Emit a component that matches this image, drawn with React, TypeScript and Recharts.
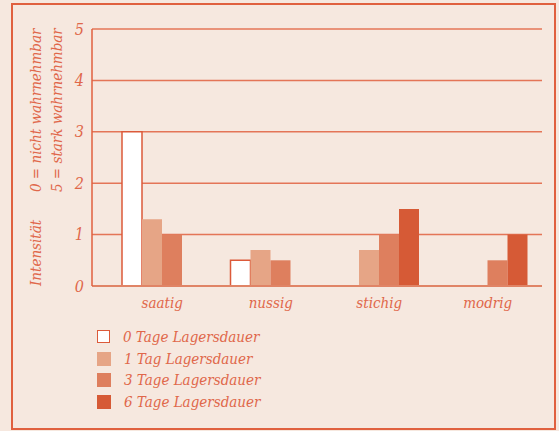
import React from 'react';
import { BarChart, Bar, XAxis, YAxis, CartesianGrid } from 'recharts';

const categories = ['saatig', 'nussig', 'stichig', 'modrig'];
const tage0 = [3, 0.5, null, null];
const tage1 = [1.3, 0.7, 0.7, null];
const tage3 = [1.0, 0.5, 1.0, 0.5];
const tage6 = [null, null, 1.5, 1.0];
const yTicks = [0, 1, 2, 3, 4, 5];

const series = [
  { key: 'tage0', name: '0 Tage Lagersdauer', fill: '#ffffff', stroke: '#dc5a3a' },
  { key: 'tage1', name: '1 Tag Lagersdauer', fill: '#e6a586', stroke: 'none' },
  { key: 'tage3', name: '3 Tage Lagersdauer', fill: '#de7f5e', stroke: 'none' },
  { key: 'tage6', name: '6 Tage Lagersdauer', fill: '#d65a36', stroke: 'none' },
];

const data = categories.map((name, i) => ({
  name,
  tage0: tage0[i],
  tage1: tage1[i],
  tage3: tage3[i],
  tage6: tage6[i],
}));

const BG = '#f6e8df';
const ORANGE = '#e0603f';
const TEXT = '#e0674a';
const FONT = "'DejaVu Serif Condensed', 'DejaVu Serif', serif";

// axis title: two rotated lines next to the y ticks
const AxisTitle = () => {
  const style = { fontFamily: FONT, fontStyle: 'italic', fontSize: 15, fill: TEXT } as const;
  return (
    <g>
      <text x={41} y={286} transform="rotate(-90 41 286)" style={style}>Intensität</text>
      <text x={41} y={192} transform="rotate(-90 41 192)" style={style}>0 = nicht wahrnehmbar</text>
      <text x={62} y={192} transform="rotate(-90 62 192)" style={style}>5 = stark wahrnehmbar</text>
    </g>
  );
};

const LegendBox = () => (
  <div
    style={{
      position: 'absolute',
      left: 97,
      top: 326,
      fontFamily: FONT,
      fontStyle: 'italic',
      fontSize: 15,
      color: TEXT,
    }}
  >
    {series.map((s) => (
      <div key={s.key} style={{ display: 'flex', alignItems: 'center', height: 21.7 }}>
        <span
          style={{
            display: 'inline-block',
            width: s.stroke === 'none' ? 14 : 11,
            height: s.stroke === 'none' ? 14 : 11,
            background: s.fill,
            border: s.stroke === 'none' ? 'none' : `1.5px solid ${s.stroke}`,
            marginRight: 13,
          }}
        />
        <span>{s.name}</span>
      </div>
    ))}
  </div>
);

export default function App() {
  return (
    <div style={{ position: 'absolute', left: 0, top: 0, width: 559, height: 431, background: BG }}>
      <div
        style={{
          position: 'absolute',
          left: 11,
          top: 3,
          width: 541,
          height: 423,
          border: `2px solid ${ORANGE}`,
        }}
      />
      <div style={{ position: 'absolute', left: 0, top: 0 }}>
        <BarChart
          width={559}
          height={431}
          data={data}
          barGap={0}
          barSize={20}
          margin={{ top: 29, right: 17, bottom: 115, left: 62 }}
        >
          <CartesianGrid vertical={false} stroke={ORANGE} strokeOpacity={0.85} strokeWidth={1.5} />
          <XAxis
            dataKey="name"
            padding={{ left: 16, right: 0 }}
            height={30}
            tickLine={false}
            tickSize={0}
            tickMargin={11}
            axisLine={{ stroke: '#e08466', strokeWidth: 2 }}
            tick={{ fill: TEXT, fontFamily: FONT, fontStyle: 'italic', fontSize: 15 }}
          />
          <YAxis
            domain={[0, 5]}
            ticks={yTicks}
            width={30}
            tickLine={false}
            tickSize={0}
            tickMargin={8}
            axisLine={{ stroke: ORANGE, strokeWidth: 1.5 }}
            tick={{ fill: TEXT, fontFamily: FONT, fontStyle: 'italic', fontSize: 16 }}
            label={{ content: () => <AxisTitle /> }}
          />
          <YAxis
            yAxisId="right"
            orientation="right"
            domain={[0, 5]}
            width={0}
            tick={false}
            tickLine={false}
            axisLine={{ stroke: ORANGE, strokeWidth: 1.5 }}
          />
          {series.map((s) => (
            <Bar
              key={s.key}
              dataKey={s.key}
              name={s.name}
              fill={s.fill}
              stroke={s.stroke}
              strokeWidth={s.stroke === 'none' ? 0 : 1.5}
              isAnimationActive={false}
            />
          ))}
        </BarChart>
      </div>
      <LegendBox />
    </div>
  );
}
